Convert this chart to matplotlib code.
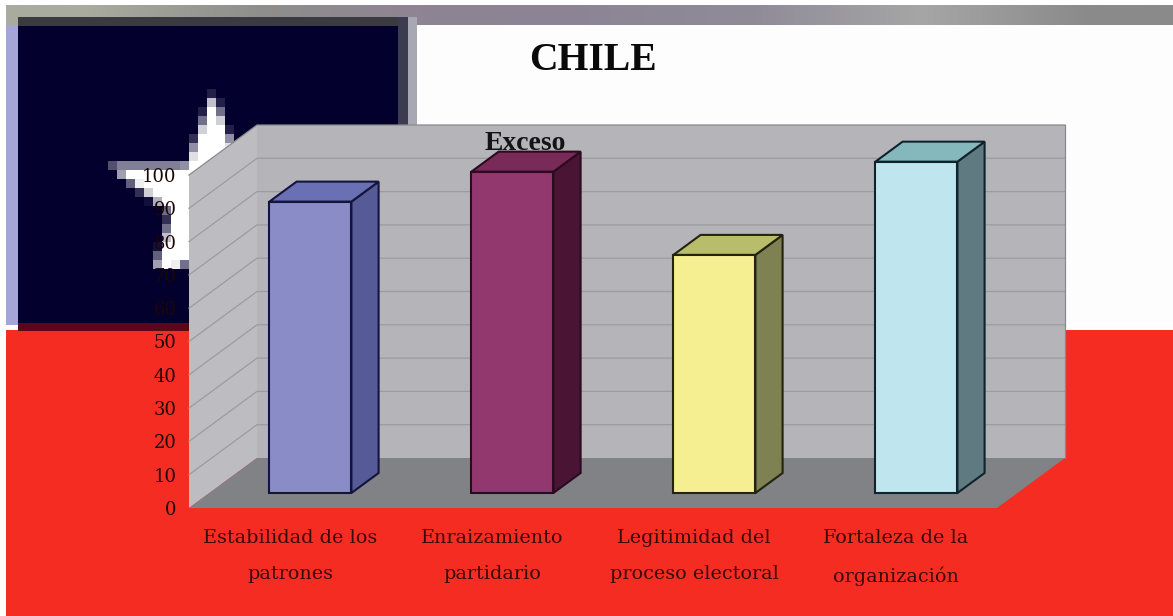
import numpy as np
import matplotlib
matplotlib.use("Agg")
import matplotlib.pyplot as plt
from matplotlib.path import Path
from matplotlib.patches import Rectangle

categories = [
    "Estabilidad de los\npatrones",
    "Enraizamiento\npartidario",
    "Legitimidad del\nproceso electoral",
    "Fortaleza de la\norganización",
]
values = [87.5, 96.5, 71.5, 99.5]
value_ticks = [0, 10, 20, 30, 40, 50, 60, 70, 80, 90, 100]

front_colors = ["#8a8cc8", "#93386f", "#f6ef92", "#bfe6ef"]
side_colors = ["#565a96", "#4a1434", "#7e8252", "#5f7a80"]
top_colors = ["#6a70b4", "#7a2a58", "#b8bd6c", "#84b8bc"]
edge_colors = ["#14143c", "#2c0a20", "#23230f", "#10242e"]

strip_colors = ["#a9ab9f", "#8f8f8c", "#8e8493", "#8c8595", "#8f8c98", "#a6a6a6", "#8a8a8a"]

W, H = 1173, 616
# shift of the back wall relative to the front plane, in category / value units
DX = 68 / 202
DV = 50 / 3.33


def project(x, v, d):
    return x + d * DX, v + d * DV


def star_mask(cx, cy, r_out, r_in, block, x0, x1, y0, y1):
    # coarse coverage grid, so the star shows big square pixels
    ang = np.deg2rad(np.arange(10) * 36 - 90)
    rad = np.where(np.arange(10) % 2 == 0, r_out, r_in)
    star = Path(np.c_[cx + rad * np.cos(ang), cy + rad * np.sin(ang)])
    nx, ny = (x1 - x0) // block, (y1 - y0) // block
    fine = 4
    xs = x0 + (np.arange(nx * fine) + 0.5) * block / fine
    ys = y0 + (np.arange(ny * fine) + 0.5) * block / fine
    gx, gy = np.meshgrid(xs, ys)
    inside = star.contains_points(np.c_[gx.ravel(), gy.ravel()]).reshape(gx.shape)
    return inside.reshape(ny, fine, nx, fine).mean(axis=(1, 3))


fig = plt.figure(figsize=(W / 100, H / 100), dpi=100, facecolor="white")

# flag behind the chart, laid out in pixels
bg = fig.add_axes([0, 0, 1, 1])
bg.axis("off")
strip = matplotlib.colors.to_rgba_array(strip_colors)[None, :, :3]
bg.imshow(strip, extent=(6, W, 25, 5), aspect="auto", interpolation="bilinear", zorder=0.5)

bg.add_patch(Rectangle((6, 330), W - 6, H - 330, color="#f42c22", lw=0))
bg.add_patch(Rectangle((417, 25), W - 417, 298, color="#fdfdfd", lw=0))
bg.add_patch(Rectangle((6, 25), 12, 300, color="#a6a6d6", lw=0))
bg.add_patch(Rectangle((18, 17), 380, 306, color="#04002e", lw=0))
bg.add_patch(Rectangle((18, 17), 380, 9, color="#3a3a40", lw=0))
bg.add_patch(Rectangle((398, 17), 10, 306, color="#3c3c50", lw=0))
bg.add_patch(Rectangle((408, 17), 9, 306, color="#a8a8b4", lw=0))
bg.add_patch(Rectangle((18, 323), 172, 8, color="#5c0616", lw=0))

cover = star_mask(213, 200, 108, 44, 9, 90, 270, 80, 269)[:, :, None]
navy = np.array(matplotlib.colors.to_rgb("#04002e"))
bg.imshow(navy * (1 - cover) + cover, extent=(90, 270, 269, 80), aspect="auto",
          interpolation="nearest", zorder=3)
bg.set_xlim(0, W)
bg.set_ylim(H, 0)

bg.text(593, 60, "CHILE", family="Liberation Serif", weight="bold", fontsize=28.5,
        ha="center", va="center", color="#0a0a0a")

# chart axes cover the front plane of the 3D box
ax = fig.add_axes([189 / W, (H - 508) / H, 808 / W, 333 / H])
ax.set_xlim(0, 4)
ax.set_ylim(0, 100)
ax.patch.set_visible(False)
for spine in ax.spines.values():
    spine.set_visible(False)

n = len(categories)
wall = [project(0, 0, 1), project(n, 0, 1), project(n, 100, 1), project(0, 100, 1)]
side = [project(0, 0, 0), project(0, 0, 1), project(0, 100, 1), project(0, 100, 0)]
floor = [project(0, 0, 0), project(n, 0, 0), project(n, 0, 1), project(0, 0, 1)]
ax.fill(*zip(*wall), color="#b4b4b9", lw=0, clip_on=False, zorder=1)
ax.fill(*zip(*side), color="#bcbcc1", lw=0, clip_on=False, zorder=1)
ax.fill(*zip(*floor), color="#818285", lw=0, clip_on=False, zorder=2)

for t in value_ticks[1:]:
    path = [project(0, t, 0), project(0, t, 1), project(n, t, 1)]
    color = "#8a8a8c" if t == 100 else "#9c9ca0"
    ax.plot(*zip(*path), color=color, lw=0.9, clip_on=False, zorder=1.5)
ax.plot(*zip(project(n, 0, 1), project(n, 100, 1)), color="#8a8a8c", lw=0.9,
        clip_on=False, zorder=1.5)

# sits on the wall, the second bar covers its lower edge
ax.text(1.663, 109.6, "Exceso", family="Liberation Serif", weight="bold", fontsize=20,
        ha="center", va="center", color="#141414", clip_on=False, zorder=2.5)

bar_w = 82 / 202
front_d, back_d = 0.3, 0.7
for i, v in enumerate(values):
    xc = i + 0.5
    fx, fb = project(xc, 0, front_d)
    ax.bar(fx, v, bottom=fb, width=bar_w, color=front_colors[i], edgecolor=edge_colors[i],
           lw=1.5, clip_on=False, zorder=5)
    l, r = xc - bar_w / 2, xc + bar_w / 2
    right = [project(r, 0, front_d), project(r, 0, back_d), project(r, v, back_d), project(r, v, front_d)]
    top = [project(l, v, front_d), project(r, v, front_d), project(r, v, back_d), project(l, v, back_d)]
    ax.fill(*zip(*right), facecolor=side_colors[i], edgecolor=edge_colors[i], lw=1.5,
            clip_on=False, zorder=4)
    ax.fill(*zip(*top), facecolor=top_colors[i], edgecolor=edge_colors[i], lw=1.5,
            clip_on=False, zorder=4)

ax.set_yticks(value_ticks)
ax.set_xticks(np.arange(n) + 0.5)
ax.set_xticklabels(categories, family="DejaVu Serif", fontsize=13.8, color="#3a0a0a",
                   linespacing=2.28)
ax.set_yticklabels(value_ticks, family="DejaVu Serif", fontsize=13, color="#1c0606")
ax.tick_params(axis="x", length=0, pad=15)
ax.tick_params(axis="y", length=0, pad=9)

fig.savefig("out.png", dpi=100)
